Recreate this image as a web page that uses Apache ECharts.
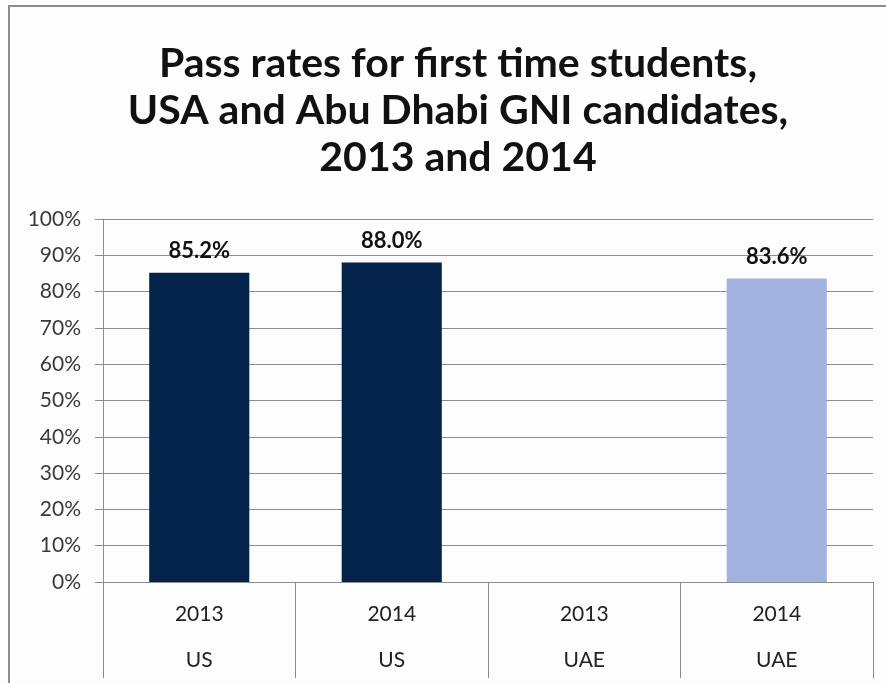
<!DOCTYPE html>
<html>
<head>
<meta charset="utf-8">
<script src="https://cdn.jsdelivr.net/npm/echarts@6/dist/echarts.min.js"></script>
<style>
  html, body { margin: 0; padding: 0; background: #fdfdfd; }
  #chart { width: 886px; height: 683px; }
</style>
</head>
<body>
<div id="chart"></div>
<script>
var years = ['2013', '2014', '2013', '2014'];
var regions = ['US', 'US', 'UAE', 'UAE'];
var passRates = [0.852, 0.880, null, 0.836];
var barColors = ['#03234b', '#03234b', '#a1b3de', '#a1b3de'];
var yTicks = [0, 0.1, 0.2, 0.3, 0.4, 0.5, 0.6, 0.7, 0.8, 0.9, 1];

var font = 'Lato, "Open Sans", sans-serif';
var myChart = echarts.init(document.getElementById('chart'));

var option = {
  backgroundColor: '#fdfdfd',
  animation: false,
  title: {
    text: 'Pass rates for first time students,\nUSA and Abu Dhabi GNI candidates,\n2013 and 2014',
    left: 453,
    top: 35,
    textAlign: 'center',
    textStyle: {
      fontFamily: font,
      fontSize: 41,
      fontWeight: 'bold',
      lineHeight: 47,
      color: '#111'
    }
  },
  graphic: [{
    type: 'rect',
    shape: { x: 9, y: 6, width: 900, height: 700 },
    style: { fill: 'none', stroke: '#8c8c8c', lineWidth: 2 },
    silent: true
  }],
  grid: { left: 103, right: 13, top: 219, bottom: 101 },
  xAxis: {
    type: 'category',
    data: years.map(function (y, i) { return y + '\n\n' + regions[i]; }),
    axisLine: { lineStyle: { color: '#8c8c8c', width: 1 } },
    axisTick: { show: true, length: 96, lineStyle: { color: '#8c8c8c' } },
    axisLabel: {
      fontFamily: font, fontSize: 21, color: '#222',
      lineHeight: 23, margin: 21
    }
  },
  yAxis: {
    type: 'value',
    min: yTicks[0],
    max: yTicks[yTicks.length - 1],
    interval: 0.1,
    axisLine: { show: true, lineStyle: { color: '#8c8c8c' } },
    axisTick: { show: true, length: 8, lineStyle: { color: '#8c8c8c' } },
    splitLine: { lineStyle: { color: '#8c8c8c' } },
    axisLabel: {
      fontFamily: font, fontSize: 21, color: '#3a3a3a', margin: 22,
      formatter: function (v) { return Math.round(v * 100) + '%'; }
    }
  },
  series: [{
    type: 'bar',
    barWidth: '52%',
    data: passRates.map(function (v, i) {
      return { value: v, itemStyle: { color: barColors[i] } };
    }),
    label: {
      show: true,
      position: 'top',
      distance: 11,
      fontFamily: font, fontSize: 22, fontWeight: 'bold', color: '#111',
      formatter: function (p) {
        return p.value == null ? '' : (p.value * 100).toFixed(1) + '%';
      }
    }
  }]
};
myChart.setOption(option);
</script>
</body>
</html>
